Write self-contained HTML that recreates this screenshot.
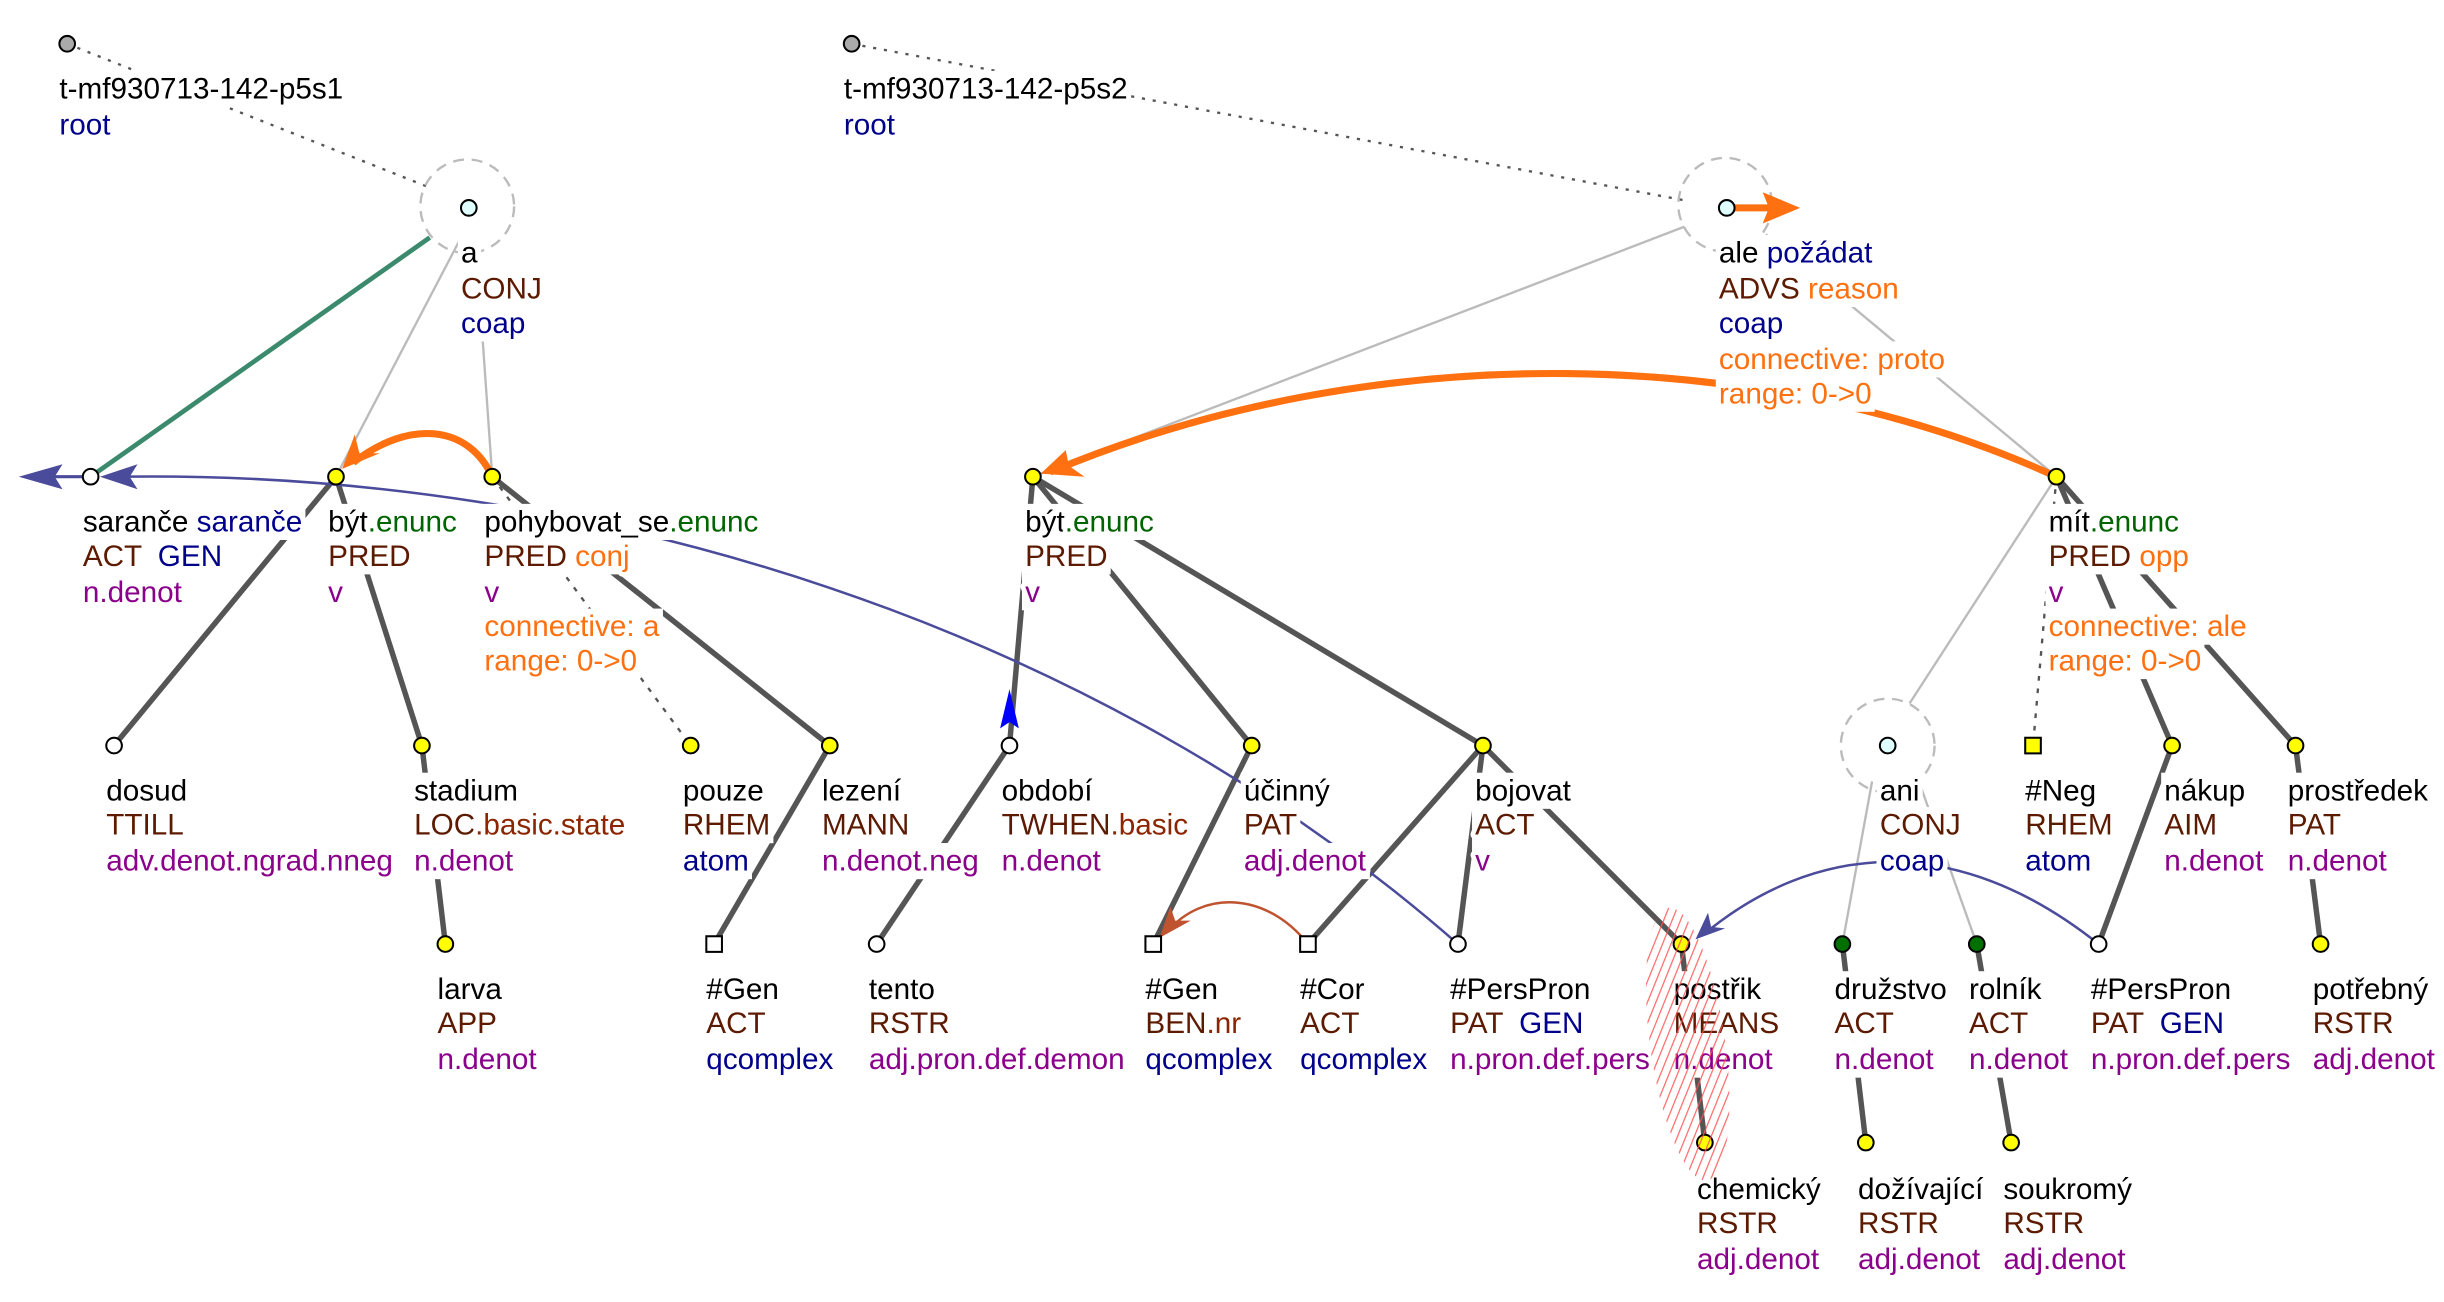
<!DOCTYPE html>
<html><head><meta charset="utf-8"><style>
html,body{margin:0;padding:0;background:#fff;}
svg{display:block;}
text{font-family:"Liberation Sans",Arial,sans-serif;font-size:19px;paint-order:stroke;stroke:#fff;stroke-width:6px;stroke-linejoin:round;}
.k{fill:#000}.r{fill:#5c1a00}.b{fill:#00008b}.p{fill:#8b008b}.g{fill:#006400}.o{fill:#ff7010}.rr{fill:#8b2500}
</style></head><body>
<svg id="s" width="2444" height="1302" viewBox="0 0 1564 833" preserveAspectRatio="none" xmlns="http://www.w3.org/2000/svg">
<defs>
<pattern id="h" width="5" height="5" patternUnits="userSpaceOnUse" patternTransform="rotate(30)">
<line x1="0" y1="0" x2="0" y2="5" stroke="#ff5050" stroke-width="1.6" opacity="0.85"/>
</pattern>
</defs>
<g fill="none">
<path d="M43,28 L275,120" stroke="#555" stroke-width="1.5" stroke-dasharray="2,5"/>
<path d="M545,28 L1077,128" stroke="#555" stroke-width="1.5" stroke-dasharray="2,5"/>
<circle cx="299" cy="132" r="30" stroke="#bbb" stroke-width="1.5" stroke-dasharray="7,5"/>
<circle cx="1104" cy="131" r="30" stroke="#bbb" stroke-width="1.5" stroke-dasharray="7,5"/>
<circle cx="1208" cy="477" r="30" stroke="#bbb" stroke-width="1.5" stroke-dasharray="7,5"/>
<g stroke="#bbb" stroke-width="1.5">
<line x1="295" y1="152" x2="215" y2="305"/>
<line x1="305" y1="162" x2="315" y2="305"/>
<line x1="1078" y1="145" x2="661" y2="305"/>
<line x1="1130" y1="150" x2="1316" y2="305"/>
<line x1="1316" y1="305" x2="1222" y2="450"/>
<line x1="1198" y1="500" x2="1179" y2="604"/>
<line x1="1228" y1="500" x2="1265" y2="604"/>
</g>
<line x1="275" y1="152" x2="58" y2="305" stroke="#3c8a6e" stroke-width="3"/>
<g stroke="#555" stroke-width="3.5">
<line x1="215" y1="305" x2="73" y2="477"/>
<line x1="215" y1="305" x2="270" y2="477"/>
<line x1="270" y1="477" x2="285" y2="604"/>
<line x1="315" y1="305" x2="531" y2="477"/>
<line x1="531" y1="477" x2="457" y2="604"/>
<line x1="661" y1="305" x2="646" y2="477"/>
<line x1="646" y1="477" x2="561" y2="604"/>
<line x1="661" y1="305" x2="801" y2="477"/>
<line x1="661" y1="305" x2="949" y2="477"/>
<line x1="801" y1="477" x2="738" y2="604"/>
<line x1="949" y1="477" x2="837" y2="604"/>
<line x1="949" y1="477" x2="933" y2="604"/>
<line x1="949" y1="477" x2="1076" y2="604"/>
<line x1="1076" y1="604" x2="1091" y2="731"/>
<line x1="1316" y1="305" x2="1390" y2="477"/>
<line x1="1316" y1="305" x2="1469" y2="477"/>
<line x1="1390" y1="477" x2="1343" y2="604"/>
<line x1="1469" y1="477" x2="1485" y2="604"/>
<line x1="1179" y1="604" x2="1194" y2="731"/>
<line x1="1265" y1="604" x2="1287" y2="731"/>
</g>
<g stroke="#555" stroke-width="1.5" stroke-dasharray="3,5">
<line x1="315" y1="305" x2="442" y2="477"/>
<line x1="1316" y1="305" x2="1301" y2="477"/>
</g>
<path d="M933,604 C700,400 380,300 75,305" stroke="#4b4b9b" stroke-width="1.6"/>
<path d="M1343,604 C1250,530 1160,540 1090,598" stroke="#4b4b9b" stroke-width="1.6"/>
<line x1="58" y1="305" x2="28" y2="305" stroke="#4b4b9b" stroke-width="2"/>
<path d="M837,604 C810,570 770,570 748,595" stroke="#c0532f" stroke-width="1.6"/>
<path d="M315,305 C300,272 262,268 226,296" stroke="#ff7010" stroke-width="4.5"/>
<path d="M1316,305 C1130,220 880,215 672,302" stroke="#ff7010" stroke-width="4.5"/>
<line x1="1105" y1="133" x2="1132" y2="133" stroke="#ff7010" stroke-width="4.5"/>
</g>
<polygon points="12,305 40,297 35,305 40,313" fill="#4b4b9b"/>
<polygon points="64,305 88,297 83,305 88,313" fill="#4b4b9b"/>
<polygon points="1085,601 1093,584 1095,593 1104,594" fill="#4b4b9b"/>
<polygon points="646,441 640,466 646,462 652,466" fill="#0000ff"/>
<polygon points="742,600 749,580 752,589 762,589" fill="#c0532f"/>
<polygon points="219,300 227,278 230,290 243,290" fill="#ff7010"/>
<polygon points="666,303 682,288 684,298 694,305" fill="#ff7010"/>
<polygon points="1152,133 1128,123 1132,133 1128,143" fill="#ff7010"/>
<g id="bg"></g>
<g id="labels">
<g class="l"><text x="38" y="63" class="k">t-mf930713-142-p5s1</text><text x="38" y="86" class="b">root</text></g>
<g class="l"><text x="540" y="63" class="k">t-mf930713-142-p5s2</text><text x="540" y="86" class="b">root</text></g>
<g class="l"><text x="295" y="168" class="k">a</text><text x="295" y="191" class="r">CONJ</text><text x="295" y="213" class="b">coap</text></g>
<g class="l"><text x="1100" y="168"><tspan class="k">ale</tspan><tspan class="b"> požádat</tspan></text>
<text x="1100" y="191"><tspan class="r">ADVS</tspan><tspan class="o"> reason</tspan></text>
<text x="1100" y="213" class="b">coap</text>
<text x="1100" y="236" class="o">connective: proto</text>
<text x="1100" y="258" class="o">range: 0-&gt;0</text></g>

<g class="l"><text x="53" y="340"><tspan class="k">saranče</tspan><tspan class="b"> saranče</tspan></text>
<text x="53" y="362"><tspan class="r">ACT</tspan><tspan class="b" dx="10">GEN</tspan></text>
<text x="53" y="385" class="p">n.denot</text></g>
<g class="l"><text x="210" y="340"><tspan class="k">být</tspan><tspan class="g">.enunc</tspan></text>
<text x="210" y="362" class="r">PRED</text><text x="210" y="385" class="p">v</text></g>
<g class="l"><text x="310" y="340"><tspan class="k">pohybovat_se</tspan><tspan class="g">.enunc</tspan></text>
<text x="310" y="362"><tspan class="r">PRED</tspan><tspan class="o"> conj</tspan></text>
<text x="310" y="385" class="p">v</text>
<text x="310" y="407" class="o">connective: a</text>
<text x="310" y="429" class="o">range: 0-&gt;0</text></g>
<g class="l"><text x="656" y="340"><tspan class="k">být</tspan><tspan class="g">.enunc</tspan></text>
<text x="656" y="362" class="r">PRED</text><text x="656" y="385" class="p">v</text></g>
<g class="l"><text x="1311" y="340"><tspan class="k">mít</tspan><tspan class="g">.enunc</tspan></text>
<text x="1311" y="362"><tspan class="r">PRED</tspan><tspan class="o"> opp</tspan></text>
<text x="1311" y="385" class="p">v</text>
<text x="1311" y="407" class="o">connective: ale</text>
<text x="1311" y="429" class="o">range: 0-&gt;0</text></g>

<g class="l"><text x="68" y="512" class="k">dosud</text><text x="68" y="534" class="r">TTILL</text><text x="68" y="557" class="p">adv.denot.ngrad.nneg</text></g>
<g class="l"><text x="265" y="512" class="k">stadium</text><text x="265" y="534"><tspan class="r">LOC</tspan><tspan class="rr">.basic.state</tspan></text><text x="265" y="557" class="p">n.denot</text></g>
<g class="l"><text x="437" y="512" class="k">pouze</text><text x="437" y="534" class="r">RHEM</text><text x="437" y="557" class="b">atom</text></g>
<g class="l"><text x="526" y="512" class="k">lezení</text><text x="526" y="534" class="r">MANN</text><text x="526" y="557" class="p">n.denot.neg</text></g>
<g class="l"><text x="641" y="512" class="k">období</text><text x="641" y="534"><tspan class="r">TWHEN</tspan><tspan class="rr">.basic</tspan></text><text x="641" y="557" class="p">n.denot</text></g>
<g class="l"><text x="796" y="512" class="k">účinný</text><text x="796" y="534" class="r">PAT</text><text x="796" y="557" class="p">adj.denot</text></g>
<g class="l"><text x="944" y="512" class="k">bojovat</text><text x="944" y="534" class="r">ACT</text><text x="944" y="557" class="p">v</text></g>
<g class="l"><text x="1203" y="512" class="k">ani</text><text x="1203" y="534" class="r">CONJ</text><text x="1203" y="557" class="b">coap</text></g>
<g class="l"><text x="1296" y="512" class="k">#Neg</text><text x="1296" y="534" class="r">RHEM</text><text x="1296" y="557" class="b">atom</text></g>
<g class="l"><text x="1385" y="512" class="k">nákup</text><text x="1385" y="534" class="r">AIM</text><text x="1385" y="557" class="p">n.denot</text></g>
<g class="l"><text x="1464" y="512" class="k">prostředek</text><text x="1464" y="534" class="r">PAT</text><text x="1464" y="557" class="p">n.denot</text></g>

<g class="l"><text x="280" y="639" class="k">larva</text><text x="280" y="661" class="r">APP</text><text x="280" y="684" class="p">n.denot</text></g>
<g class="l"><text x="452" y="639" class="k">#Gen</text><text x="452" y="661" class="r">ACT</text><text x="452" y="684" class="b">qcomplex</text></g>
<g class="l"><text x="556" y="639" class="k">tento</text><text x="556" y="661" class="r">RSTR</text><text x="556" y="684" class="p">adj.pron.def.demon</text></g>
<g class="l"><text x="733" y="639" class="k">#Gen</text><text x="733" y="661"><tspan class="r">BEN</tspan><tspan class="rr">.nr</tspan></text><text x="733" y="684" class="b">qcomplex</text></g>
<g class="l"><text x="832" y="639" class="k">#Cor</text><text x="832" y="661" class="r">ACT</text><text x="832" y="684" class="b">qcomplex</text></g>
<g class="l"><text x="928" y="639" class="k">#PersPron</text><text x="928" y="661"><tspan class="r">PAT</tspan><tspan class="b" dx="10">GEN</tspan></text><text x="928" y="684" class="p">n.pron.def.pers</text></g>
<g class="l"><text x="1071" y="639" class="k">postřik</text><text x="1071" y="661" class="r">MEANS</text><text x="1071" y="684" class="p">n.denot</text></g>
<g class="l"><text x="1174" y="639" class="k">družstvo</text><text x="1174" y="661" class="r">ACT</text><text x="1174" y="684" class="p">n.denot</text></g>
<g class="l"><text x="1260" y="639" class="k">rolník</text><text x="1260" y="661" class="r">ACT</text><text x="1260" y="684" class="p">n.denot</text></g>
<g class="l"><text x="1338" y="639" class="k">#PersPron</text><text x="1338" y="661"><tspan class="r">PAT</tspan><tspan class="b" dx="10">GEN</tspan></text><text x="1338" y="684" class="p">n.pron.def.pers</text></g>
<g class="l"><text x="1480" y="639" class="k">potřebný</text><text x="1480" y="661" class="r">RSTR</text><text x="1480" y="684" class="p">adj.denot</text></g>

<g class="l"><text x="1086" y="767" class="k">chemický</text><text x="1086" y="789" class="r">RSTR</text><text x="1086" y="812" class="p">adj.denot</text></g>
<g class="l"><text x="1189" y="767" class="k">dožívající</text><text x="1189" y="789" class="r">RSTR</text><text x="1189" y="812" class="p">adj.denot</text></g>
<g class="l"><text x="1282" y="767" class="k">soukromý</text><text x="1282" y="789" class="r">RSTR</text><text x="1282" y="812" class="p">adj.denot</text></g>
</g>
<g stroke="#000" stroke-width="1.3">
<circle cx="43" cy="28" r="5" fill="#aaa"/>
<circle cx="545" cy="28" r="5" fill="#aaa"/>
<circle cx="300" cy="133" r="5" fill="#e0ffff"/>
<circle cx="1105" cy="133" r="5" fill="#e0ffff"/>
<circle cx="1208" cy="477" r="5" fill="#e0ffff"/>
<circle cx="58" cy="305" r="5" fill="#fff"/>
<circle cx="215" cy="305" r="5" fill="#ff0"/>
<circle cx="315" cy="305" r="5" fill="#ff0"/>
<circle cx="661" cy="305" r="5" fill="#ff0"/>
<circle cx="1316" cy="305" r="5" fill="#ff0"/>
<circle cx="73" cy="477" r="5" fill="#fff"/>
<circle cx="270" cy="477" r="5" fill="#ff0"/>
<circle cx="442" cy="477" r="5" fill="#ff0"/>
<circle cx="531" cy="477" r="5" fill="#ff0"/>
<circle cx="646" cy="477" r="5" fill="#fff"/>
<circle cx="801" cy="477" r="5" fill="#ff0"/>
<circle cx="949" cy="477" r="5" fill="#ff0"/>
<rect x="1296" y="472" width="10" height="10" fill="#ff0"/>
<circle cx="1390" cy="477" r="5" fill="#ff0"/>
<circle cx="1469" cy="477" r="5" fill="#ff0"/>
<circle cx="285" cy="604" r="5" fill="#ff0"/>
<rect x="452" y="599" width="10" height="10" fill="#fff"/>
<circle cx="561" cy="604" r="5" fill="#fff"/>
<rect x="733" y="599" width="10" height="10" fill="#fff"/>
<rect x="832" y="599" width="10" height="10" fill="#fff"/>
<circle cx="933" cy="604" r="5" fill="#fff"/>
<circle cx="1076" cy="604" r="5" fill="#ff0"/>
<circle cx="1179" cy="604" r="5" fill="#007000"/>
<circle cx="1265" cy="604" r="5" fill="#007000"/>
<circle cx="1343" cy="604" r="5" fill="#fff"/>
<circle cx="1485" cy="604" r="5" fill="#ff0"/>
<circle cx="1091" cy="731" r="5" fill="#ff0"/>
<circle cx="1194" cy="731" r="5" fill="#ff0"/>
<circle cx="1287" cy="731" r="5" fill="#ff0"/>
</g>
<ellipse cx="1080" cy="668" rx="24" ry="88" transform="rotate(-8 1080 668)" fill="url(#h)"/>
</svg>
<script>
(function(){
var bg=document.getElementById('bg');
var gs=document.querySelectorAll('#labels g.l');
for(var i=0;i<gs.length;i++){
 var ts=gs[i].querySelectorAll('text');
 for(var j=0;j<ts.length;j++){
  var b=ts[j].getBBox();
  var r=document.createElementNS('http://www.w3.org/2000/svg','rect');
  r.setAttribute('x',b.x-2);r.setAttribute('y',b.y-1);
  r.setAttribute('width',b.width+4);r.setAttribute('height',b.height+2);
  r.setAttribute('fill','#fff');bg.appendChild(r);
 }
}
})();
</script>
</body></html>
